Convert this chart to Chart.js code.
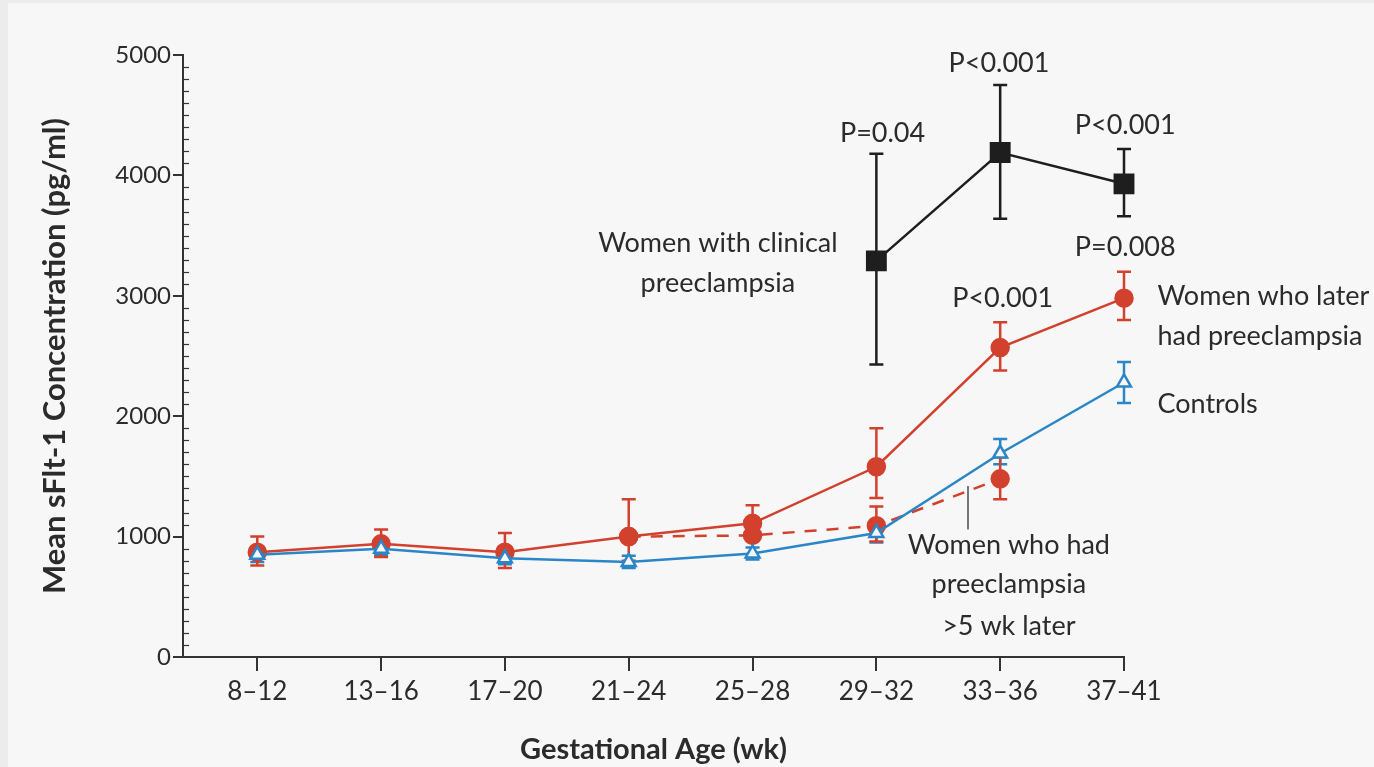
<!DOCTYPE html>
<html>
<head>
<meta charset="utf-8">
<script src="https://cdn.jsdelivr.net/npm/chart.js@4.4.1/dist/chart.umd.min.js"></script>
<style>
  html, body { margin: 0; padding: 0; background: #ececec; }
  canvas { display: block; }
</style>
</head>
<body>
<canvas id="chart" width="1374" height="767"></canvas>
<script>
// categorias (semanas de gestação)
const weeks = ["8\u201312", "13\u201316", "17\u201320", "21\u201324", "25\u201328", "29\u201332", "33\u201336", "37\u201341"];

// Controls
const controls = [850, 900, 820, 790, 860, 1030, 1690, 2280];
const controlsLo = [790, 850, 770, 740, 810, 950, 1600, 2110];
const controlsHi = [910, 950, 870, 840, 910, 1110, 1810, 2450];

// Women who later had preeclampsia
const later = [870, 940, 870, 1000, 1110, 1580, 2570, 2980];
const laterLo = [760, 830, 740, 800, 980, 1320, 2380, 2800];
const laterHi = [1000, 1060, 1030, 1310, 1260, 1900, 2780, 3200];

// Women who had preeclampsia >5 wk later (linha tracejada)
const over5 = [null, null, null, 1000, 1010, 1090, 1480, null];
const over5Lo = [null, null, null, null, null, 960, 1310, null];
const over5Hi = [null, null, null, null, null, 1250, 1660, null];

// Women with clinical preeclampsia
const clinical = [null, null, null, null, null, 3290, 4190, 3930];
const clinicalLo = [null, null, null, null, null, 2430, 3640, 3660];
const clinicalHi = [null, null, null, null, null, 4180, 4750, 4220];

const yTicks = [0, 1000, 2000, 3000, 4000, 5000];

const RED = "#d2402e";
const BLUE = "#2a86c6";
const BLACK = "#1e1e1e";
const INK = "#333333";
const FONT = "Lato";

function toPoints(values) {
  return values.map((v, i) => ({ x: i, y: v }));
}

// textos (posições em unidades dos eixos)
const notes = [
  { t: "P=0.04", x: 5.05, y: 4350, align: "center" },
  { t: "P<0.001", x: 5.99, y: 4935, align: "center" },
  { t: "P<0.001", x: 7.01, y: 4420, align: "center" },
  { t: "P=0.008", x: 7.01, y: 3405, align: "center" },
  { t: "P<0.001", x: 6.02, y: 2980, align: "center" },
  { t: "Women with clinical", x: 3.72, y: 3440, align: "center" },
  { t: "preeclampsia", x: 3.72, y: 3100, align: "center" },
  { t: "Women who later", x: 7.27, y: 3000, align: "left" },
  { t: "had preeclampsia", x: 7.27, y: 2665, align: "left" },
  { t: "Controls", x: 7.27, y: 2100, align: "left" },
  { t: "Women who had", x: 6.07, y: 930, align: "center" },
  { t: "preeclampsia", x: 6.07, y: 600, align: "center" },
  { t: ">5 wk later", x: 6.07, y: 255, align: "center" },
];

const errorBars = {
  id: "errorBars",
  beforeDatasetsDraw(chart) {
    const ctx = chart.ctx;
    const xs = chart.scales.x, ys = chart.scales.y;
    chart.data.datasets.forEach((ds) => {
      if (!ds.lo) return;
      ctx.save();
      ctx.strokeStyle = ds.borderColor;
      ctx.lineWidth = 2.5;
      ds.lo.forEach((lo, i) => {
        const hi = ds.hi[i];
        if (lo == null || hi == null) return;
        const px = xs.getPixelForValue(i);
        const y1 = ys.getPixelForValue(lo);
        const y2 = ys.getPixelForValue(hi);
        ctx.beginPath();
        ctx.moveTo(px, y1); ctx.lineTo(px, y2);
        ctx.moveTo(px - 7, y1); ctx.lineTo(px + 7, y1);
        ctx.moveTo(px - 7, y2); ctx.lineTo(px + 7, y2);
        ctx.stroke();
      });
      ctx.restore();
    });
  },
};

const extras = {
  id: "extras",
  beforeDraw(chart) {
    const ctx = chart.ctx;
    ctx.save();
    ctx.fillStyle = "#ececec";
    ctx.fillRect(0, 0, chart.width, chart.height);
    ctx.fillStyle = "#f7f7f7";
    ctx.fillRect(8, 3, chart.width - 8, chart.height - 3);
    ctx.restore();
  },
  afterDraw(chart) {
    const ctx = chart.ctx;
    const xs = chart.scales.x, ys = chart.scales.y;
    ctx.save();
    // marcas menores do eixo y (lado de dentro)
    ctx.strokeStyle = INK;
    ctx.lineWidth = 1.2;
    for (let v = 100; v < 5000; v += 100) {
      if (v % 1000 === 0) continue;
      const py = Math.round(ys.getPixelForValue(v)) + 0.5;
      ctx.beginPath();
      ctx.moveTo(xs.left, py);
      ctx.lineTo(xs.left + 6, py);
      ctx.stroke();
    }
    // linha guia cinza
    ctx.strokeStyle = "#777";
    ctx.lineWidth = 2;
    const lx = xs.getPixelForValue(5.74);
    ctx.beginPath();
    ctx.moveTo(lx, ys.getPixelForValue(1420));
    ctx.lineTo(lx, ys.getPixelForValue(1060));
    ctx.stroke();
    // textos
    ctx.fillStyle = "#2b2b2b";
    ctx.font = "27px " + FONT;
    ctx.textBaseline = "middle";
    notes.forEach((n) => {
      ctx.textAlign = n.align;
      ctx.fillText(n.t, xs.getPixelForValue(n.x), ys.getPixelForValue(n.y));
    });
    ctx.restore();
  },
};

new Chart(document.getElementById("chart"), {
  type: "line",
  data: {
    datasets: [
      {
        label: "Controls",
        data: toPoints(controls),
        lo: controlsLo,
        hi: controlsHi,
        borderColor: BLUE,
        backgroundColor: "#f7f7f7",
        borderWidth: 2.5,
        pointStyle: "triangle",
        pointRadius: 8,
        pointBorderWidth: 2.5,
        clip: false,
      },
      {
        label: "Women who had preeclampsia >5 wk later",
        data: toPoints(over5),
        lo: over5Lo,
        hi: over5Hi,
        borderColor: RED,
        backgroundColor: RED,
        borderWidth: 2.5,
        borderDash: [12, 10],
        pointStyle: "circle",
        pointRadius: 8.5,
        clip: false,
      },
      {
        label: "Women who later had preeclampsia",
        data: toPoints(later),
        lo: laterLo,
        hi: laterHi,
        borderColor: RED,
        backgroundColor: RED,
        borderWidth: 2.5,
        pointStyle: "circle",
        pointRadius: 8.5,
        clip: false,
      },
      {
        label: "Women with clinical preeclampsia",
        data: toPoints(clinical),
        lo: clinicalLo,
        hi: clinicalHi,
        borderColor: BLACK,
        backgroundColor: BLACK,
        borderWidth: 2.5,
        pointStyle: "rect",
        pointRadius: 13,
        clip: false,
      },
    ],
  },
  options: {
    responsive: false,
    animation: false,
    spanGaps: false,
    layout: { padding: { left: 0, top: 55, right: 250, bottom: 0 } },
    plugins: { legend: { display: false }, tooltip: { enabled: false } },
    scales: {
      x: {
        type: "linear",
        min: -0.6,
        max: 7,
        afterFit: (s) => { s.height = 110; },
        afterBuildTicks: (s) => { s.ticks = weeks.map((w, i) => ({ value: i })); },
        ticks: {
          callback: (v) => weeks[v],
          font: { family: FONT, size: 26 },
          color: "#2b2b2b",
          padding: 5,
          maxRotation: 0,
        },
        grid: { drawOnChartArea: false, color: INK, lineWidth: 2, tickLength: 14 },
        border: { color: INK, width: 2 },
        title: {
          display: true,
          text: "Gestational Age (wk)",
          font: { family: FONT, size: 29, weight: "bold" },
          color: "#2b2b2b",
          padding: { top: 0, bottom: 0 },
        },
      },
      y: {
        min: 0,
        max: 5000,
        afterFit: (s) => { s.width = 183; },
        afterBuildTicks: (s) => { s.ticks = yTicks.map((v) => ({ value: v })); },
        ticks: {
          callback: (v) => String(v),
          font: { family: FONT, size: 24 },
          color: "#2b2b2b",
          padding: 2,
        },
        grid: { drawOnChartArea: false, color: INK, lineWidth: 2, tickLength: 10 },
        border: { color: INK, width: 2 },
        title: {
          display: true,
          text: "Mean sFlt-1 Concentration (pg/ml)",
          font: { family: FONT, size: 31, weight: "bold" },
          color: "#2b2b2b",
          padding: { top: 36, bottom: 0 },
        },
      },
    },
  },
  plugins: [errorBars, extras],
});
</script>
</body>
</html>
